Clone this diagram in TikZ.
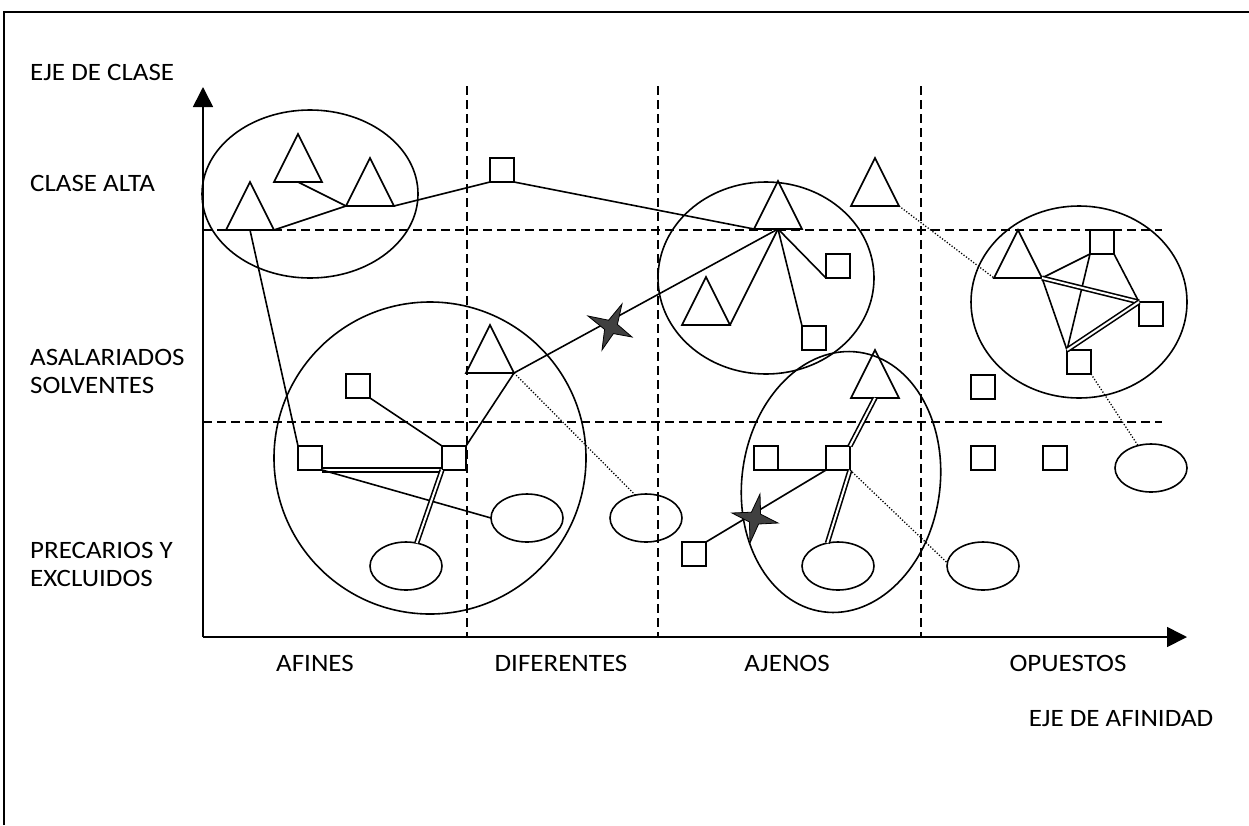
\documentclass[tikz,border=0pt]{standalone}
\usepackage{fontspec}
\setmainfont{Carlito}
\newfontfamily\lblfont[FakeStretch=1.08]{Carlito}
\usetikzlibrary{shapes.geometric,arrows.meta,calc}
\definecolor{starfill}{RGB}{64,64,64}
\newcommand{\fourstar}[6]{%
  \coordinate (#1c) at #2; \coordinate (#1t) at #3; \coordinate (#1r) at #4;
  \coordinate (#1b) at #5; \coordinate (#1l) at #6;
  \coordinate (#1m1) at ($(#1t)!0.5!(#1r)$);
  \coordinate (#1m2) at ($(#1r)!0.5!(#1b)$);
  \coordinate (#1m3) at ($(#1b)!0.5!(#1l)$);
  \coordinate (#1m4) at ($(#1l)!0.5!(#1t)$);
  \draw[starsty] (#1t) -- ($(#1c)!0.4!(#1m1)$) -- (#1r) -- ($(#1c)!0.4!(#1m2)$)
    -- (#1b) -- ($(#1c)!0.4!(#1m3)$) -- (#1l) -- ($(#1c)!0.4!(#1m4)$) -- cycle;
}
\begin{document}
\begin{tikzpicture}[x=1pt,y=-1pt,
  tri/.style={isosceles triangle, isosceles triangle stretches, rotate=90,
    minimum width=48pt, minimum height=48pt, inner sep=0pt, outer sep=0pt,
    draw, line width=1.6pt, anchor=lower side},
  sq/.style={rectangle, draw, line width=1.6pt, minimum size=24pt, inner sep=0pt, outer sep=0pt},
  ell/.style={ellipse, draw, line width=1.6pt, minimum width=72pt, minimum height=48pt, inner sep=0pt, outer sep=0pt},
  grp/.style={ellipse, draw, line width=1.6pt, inner sep=0pt, outer sep=0pt},
  lnk/.style={line width=1.6pt},
  dbl/.style={double, double distance=2pt, line width=1.6pt},
  dot/.style={line width=1.3pt, dash pattern=on 1.2pt off 1.8pt},
  gridln/.style={line width=1.6pt, dash pattern=on 9pt off 5pt},
  lbl/.style={font=\lblfont\fontsize{25}{30}\selectfont, inner sep=0pt},
  starsty/.style={fill=starfill, draw=black, line width=0.8pt, line join=miter}
]
\useasboundingbox (0,0) rectangle (1249,825);
% frame
\draw[line width=2.8pt] (4,825) -- (4,12) -- (1249,12);

% grid
\coordinate (O) at (203,637);
\coordinate (Ytop) at (203,87);
\coordinate (Xend) at (1187,637);
\foreach \x in {467,658,921} \draw[gridln] (\x,86) -- (\x,637);
\foreach \y in {230,422} \draw[gridln] (203,\y) -- (1162,\y);
\draw[line width=1.6pt, -{Triangle[length=20pt,width=20pt]}] (O) -- (Ytop);
\draw[line width=1.6pt, -{Triangle[length=20pt,width=20pt]}] (O) -- (Xend);

% labels
\node[lbl, anchor=base west] (lyc) at (30,80) {EJE DE CLASE};
\node[lbl, anchor=base west] (l1) at (30,191) {CLASE ALTA};
\node[lbl, anchor=base west] (l2) at (30,365) {ASALARIADOS};
\node[lbl, anchor=base west] (l2b) at (30,393) {SOLVENTES};
\node[lbl, anchor=base west] (l3) at (30,558) {PRECARIOS Y};
\node[lbl, anchor=base west] (l3b) at (30,586) {EXCLUIDOS};
\node[lbl, anchor=base] (c1) at (315,671) {AFINES};
\node[lbl, anchor=base] (c2) at (561,671) {DIFERENTES};
\node[lbl, anchor=base] (c3) at (787,671) {AJENOS};
\node[lbl, anchor=base] (c4) at (1068,671) {OPUESTOS};
\node[lbl, anchor=base] (lxa) at (1121,726) {EJE DE AFINIDAD};

% group ellipses
\node[grp, minimum width=216pt, minimum height=168pt] (G1) at (310,194) {};
\node[grp, minimum width=216pt, minimum height=192pt] (G2) at (766,278) {};
\node[grp, minimum width=216pt, minimum height=192pt] (G3) at (1079,302) {};
\node[grp, minimum width=312pt, minimum height=312pt] (G4) at (430,458) {};
\node[grp, minimum width=198pt, minimum height=262pt, rotate=-8] (G5) at (841,482) {};

% triangles (placed by base midpoint)
\node[tri] (A1) at (250,230) {};
\node[tri] (A2) at (298,182) {};
\node[tri] (A3) at (370,206) {};
\node[tri] (T4) at (778,229) {};
\node[tri] (T5) at (490,373) {};
\node[tri] (T6) at (706,325) {};
\node[tri] (T7) at (875,206) {};
\node[tri] (T8) at (1018,278) {};
\node[tri] (T9) at (875,398) {};

% squares
\node[sq] (S1) at (502,170) {};
\node[sq] (S2) at (310,458) {};
\node[sq] (S11) at (358,386) {};
\node[sq] (S12) at (454,458) {};
\node[sq] (S3) at (838,266) {};
\node[sq] (S4) at (814,338) {};
\node[sq] (S5) at (1102,242) {};
\node[sq] (S6) at (1151,314) {};
\node[sq] (S7) at (1079,362) {};
\node[sq] (S8) at (983,387) {};
\node[sq] (S9) at (983,458) {};
\node[sq] (S10) at (1055,458) {};
\node[sq] (S13) at (766,458) {};
\node[sq] (S14) at (838,458) {};
\node[sq] (S15) at (694,554) {};

% small ellipses
\node[ell] (E6) at (646,518) {};
\node[ell] (E7) at (527,518) {};
\node[ell] (E8) at (406,566) {};
\node[ell] (E3) at (1151,468) {};
\node[ell] (E10) at (838,566) {};
\node[ell] (E11) at (983,566) {};

% connectors: upper left
\draw[lnk] (A2.lower side) -- (A3.left corner);
\draw[lnk] (A1.right corner) -- (A3.left corner);
\draw[lnk] (A3.right corner) -- (S1.south west);
\draw[lnk] (S1.south east) -- (T4.left corner);
\draw[lnk] (A1.lower side) -- (S2.north west);
% lower left
\draw[dbl] (S2.south east) -- (S12.south west);
\draw[lnk] (S2.south east) -- (E7.west);
\draw[dbl] (S12.south west) -- (E8.65);
\draw[lnk] (S11.south east) -- (S12.north west);
\draw[lnk] (S12.north east) -- (T5.right corner);
\draw[lnk] (T5.right corner) -- (T4.lower side);
\draw[dot] (T5.right corner) -- (E6.115);
% upper middle
\draw[lnk] (T4.lower side) -- (T6.right corner);
\draw[lnk] (T4.lower side) -- (S3.south west);
\draw[lnk] (T4.lower side) -- (S4.north west);
% right cluster
\draw[dot] (T7.right corner) -- (T8.left corner);
\draw[lnk] (T8.right corner) -- (S5.south west);
\draw[lnk] (T8.right corner) -- (S7.north west);
\draw[lnk] (S5.south west) -- (S7.north west);
\draw[lnk] (S5.south east) -- (S6.north west);
\draw[dbl] (T8.right corner) -- (S6.north west);
\draw[dbl] (S7.north west) -- (S6.north west);
\draw[dot] (S7.south east) -- (E3.120);
% lower middle cluster
\draw[dbl] (S14.north east) -- (T9.lower side);
\draw[lnk] (S13.south east) -- (S14.south west);
\draw[lnk] (S14.south west) -- (S15.north east);
\draw[dbl] (S14.south east) -- (E10.115);
\draw[dot] (S14.south east) -- (E11.175);

% stars
\fourstar{sa}{(611,327)}{(622,304)}{(632,337)}{(602,350)}{(588,316)}
\fourstar{sb}{(755,518)}{(760,494)}{(778,523)}{(750,543)}{(732,513)}
\end{tikzpicture}
\end{document}
